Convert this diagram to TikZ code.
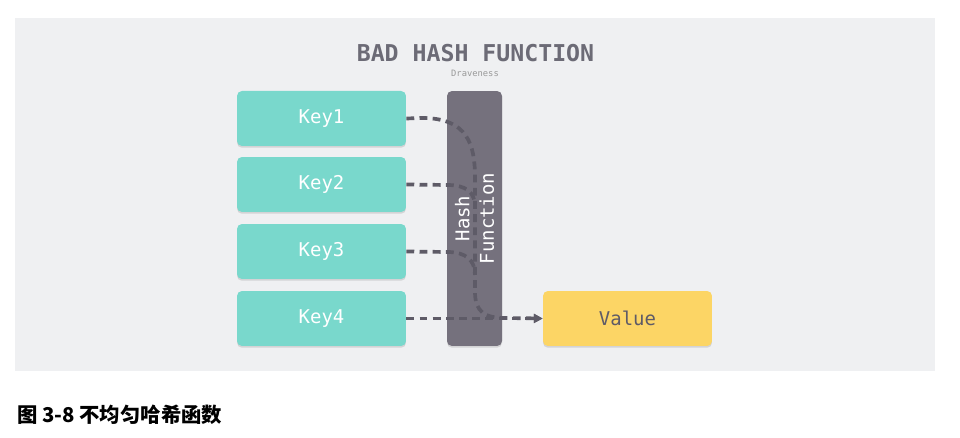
\documentclass[tikz,border=0pt]{standalone}
\usepackage{fontspec}
\setmonofont{DejaVu Sans Mono}
\newfontfamily\cjk{Noto Sans CJK SC}
\usetikzlibrary{arrows.meta,shadows}
\definecolor{bggray}{HTML}{EFF0F2}
\definecolor{keygreen}{HTML}{79D8CC}
\definecolor{hashgray}{HTML}{75717D}
\definecolor{valyellow}{HTML}{FCD565}
\definecolor{linegray}{HTML}{5E5B67}
\definecolor{titlegray}{HTML}{6C6B76}

\begin{document}
\begin{tikzpicture}
	[x=0.02cm,y=-0.02cm,
	box/.style={rounded corners=2.8pt,inner sep=0pt,minimum height=1.1cm,
		font=\ttfamily\fontsize{10.8}{14}\selectfont,
		drop shadow={shadow xshift=0pt,shadow yshift=-1pt,opacity=.25}},
	keybox/.style={box,fill=keygreen,text=white,minimum width=3.38cm},
	link/.style={linegray,line width=2.1pt,dash pattern=on 4.5pt off 3pt}]
	\useasboundingbox (0,0) rectangle (960,438);
	\fill[bggray] (15,18) rectangle (935,371);
	
	\node[titlegray,font=\ttfamily\bfseries\fontsize{13.2}{16}\selectfont] (title) at (475.5,53) {BAD HASH FUNCTION};
	\node[gray!80,font=\ttfamily\fontsize{5}{6}\selectfont] (author) at (475,73) {Draveness};
	
	\foreach \i/\y in {1/118.5,2/184.5,3/251.5,4/318.5}
	\node[keybox] (key\i) at (321.5,\y) {Key\i};
	\node[box,fill=hashgray,text=white,rotate=90,align=center,minimum width=5.1cm] (hash) at (474.5,218.5) {Hash\\Function};
	\node[box,fill=valyellow,text=linegray,minimum width=3.38cm] (value) at (627.5,318.5) {Value};
	
	\coordinate (k2end) at (475,207);
	\coordinate (k3end) at (475,275);
	\draw[link,-{Triangle[length=5pt,width=5pt]}] (key1.east) -- (422,118) .. controls (468,118) and (475,145) .. (475,178) -- (475,292) .. controls (475,312) and (485,318) .. (505,318) -- (value.west);
	\draw[link] (key2.east) -- (447,185) .. controls (466,185) and (475,192) .. (k2end);
	\draw[link] (key3.east) -- (447,252) .. controls (466,252) and (475,260) .. (k3end);
	\draw[link,-{Triangle[length=5pt,width=5pt]}] (key4.east) -- (value.west);
	
	\node[anchor=west,font=\cjk\bfseries\fontsize{11.6}{14}\selectfont] (caption) at (11,415) {图 3-8 不均匀哈希函数};
\end{tikzpicture}
\end{document}
